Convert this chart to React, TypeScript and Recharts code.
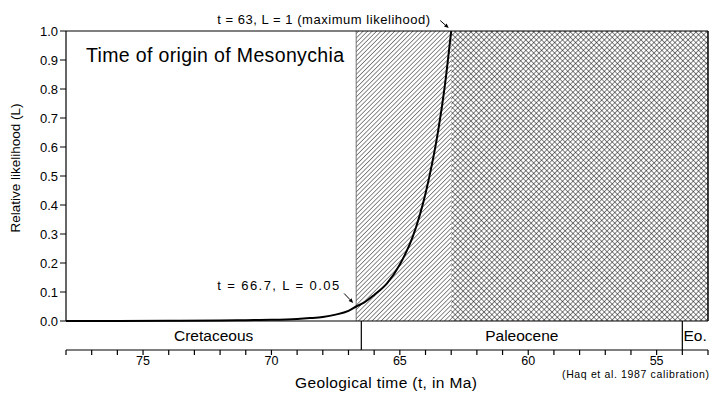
import React from 'react';
import {
  ComposedChart,
  Line,
  XAxis,
  YAxis,
  ReferenceArea,
  ReferenceLine,
  ReferenceDot,
} from 'recharts';

// ---- data ----
const times = [78, 76, 74, 72, 71, 70, 69, 68.5, 68, 67.5, 67, 66.7, 66.4, 66, 65.5, 65, 64.5, 64, 63.75, 63.5, 63.25, 63];
const likelihood = [0, 0.0003, 0.001, 0.002, 0.003, 0.004, 0.007, 0.01, 0.014, 0.022, 0.035, 0.05, 0.063, 0.09, 0.13, 0.195, 0.29, 0.44, 0.54, 0.66, 0.81, 1.0];

const timeTicks = [78, 77, 76, 75, 74, 73, 72, 71, 70, 69, 68, 67, 66, 65, 64, 63, 62, 61, 60, 59, 58, 57, 56, 55, 54, 53];
const labeledTimes = [75, 70, 65, 60, 55];
const likelihoodTicks = [0, 0.1, 0.2, 0.3, 0.4, 0.5, 0.6, 0.7, 0.8, 0.9, 1.0];

const eraNames = ['Cretaceous', 'Paleocene', 'Eo.'];
const eraBounds = [78, 66.5, 54, 53];

const lowerBoundTime = 66.7;
const lowerBoundL = 0.05;
const maxLikTime = 63;
const maxLik = 1;

const data = times.map((t, i) => ({ t, L: likelihood[i] }));

const FONT = '"Liberation Sans", Arial, Helvetica, sans-serif';

const XTick = (props: any) => {
  const { x, y, payload } = props;
  if (!labeledTimes.includes(payload.value)) return <g />;
  return (
    <text x={x} y={y - 1} dy="0.71em" textAnchor="middle" fontSize={12.5} fontFamily={FONT} fill="#000">
      {payload.value}
    </text>
  );
};

const arrow = (x1: number, y1: number, x2: number, y2: number) => {
  const dx = x2 - x1;
  const dy = y2 - y1;
  const len = Math.sqrt(dx * dx + dy * dy);
  const ux = dx / len;
  const uy = dy / len;
  const hl = 4.5;
  const hw = 2;
  const bx = x2 - ux * hl;
  const by = y2 - uy * hl;
  const p1 = `${bx - uy * hw},${by + ux * hw}`;
  const p2 = `${bx + uy * hw},${by - ux * hw}`;
  return (
    <g>
      <line x1={x1} y1={y1} x2={bx} y2={by} stroke="#000" strokeWidth={1} />
      <polygon points={`${x2},${y2} ${p1} ${p2}`} fill="#000" />
    </g>
  );
};

const makeNote = (text: string, textDx: number, textDy: number, textLen: number, a: number[]) =>
  (props: any) => {
    const vb = props.viewBox || {};
    const cx = (vb.x ?? 0) + (vb.width ?? 0) / 2;
    const cy = (vb.y ?? 0) + (vb.height ?? 0) / 2;
    return (
      <g>
        <text
          x={cx + textDx}
          y={cy + textDy}
          textAnchor="end"
          fontSize={13}
          fontFamily={FONT}
          fill="#000"
          textLength={textLen}
          lengthAdjust="spacing"
        >
          {text}
        </text>
        {arrow(cx + a[0], cy + a[1], cx + a[2], cy + a[3])}
      </g>
    );
  };

const eraLabel = (name: string) => (props: any) => {
  const vb = props.viewBox || {};
  const cx = (vb.x ?? 0) + (vb.width ?? 0) / 2;
  const cy = (vb.y ?? 0) + (vb.height ?? 0) / 2;
  return (
    <text x={cx} y={cy + 5.5} textAnchor="middle" fontSize={15.5} fontFamily={FONT} fill="#000">
      {name}
    </text>
  );
};

export default function App() {
  return (
    <div style={{ position: 'absolute', left: 0, top: 0, width: 724, height: 398, background: '#fff' }}>
      <svg width={0} height={0} style={{ position: 'absolute' }}>
        <defs>
          <pattern id="hatch" patternUnits="userSpaceOnUse" width={3.2} height={3.2} patternTransform="rotate(45)">
            <line x1={0} y1={0} x2={0} y2={3.2} stroke="#000" strokeWidth={0.9} />
          </pattern>
          <pattern id="crosshatch" patternUnits="userSpaceOnUse" width={3.7} height={3.7} patternTransform="rotate(45)">
            <line x1={0} y1={0} x2={0} y2={3.7} stroke="#000" strokeWidth={0.95} />
            <line x1={0} y1={0} x2={3.7} y2={0} stroke="#000" strokeWidth={0.95} />
          </pattern>
        </defs>
      </svg>
      <ComposedChart width={724} height={398} data={data} margin={{ top: 31, right: 16, bottom: 0, left: 26 }}>
        <XAxis
          dataKey="t"
          type="number"
          domain={[53, 78]}
          reversed
          ticks={timeTicks}
          interval={0}
          tickSize={5}
          tickMargin={2}
          height={48}
          tick={<XTick />}
          stroke="#000"
          axisLine={{ stroke: '#000', strokeWidth: 1.2 }}
          tickLine={{ stroke: '#000', strokeWidth: 1.2 }}
          allowDataOverflow
        />
        <YAxis
          type="number"
          domain={[-0.1, 1]}
          ticks={likelihoodTicks}
          interval={0}
          width={40}
          tickSize={6}
          tickMargin={2}
          axisLine={false}
          tickLine={{ stroke: '#000', strokeWidth: 1 }}
          tickFormatter={(v: number) => v.toFixed(1)}
          tick={{ fontSize: 13, fill: '#000', fontFamily: FONT }}
          allowDataOverflow
        />
        <ReferenceArea x1={lowerBoundTime} x2={maxLikTime} y1={0} y2={1} fill="url(#hatch)" fillOpacity={1} stroke="none" />
        <ReferenceArea x1={maxLikTime} x2={53} y1={0} y2={1} fill="url(#crosshatch)" fillOpacity={1} stroke="none" />
        <ReferenceLine segment={[{ x: lowerBoundTime, y: 0 }, { x: lowerBoundTime, y: 1 }]} stroke="#555" strokeWidth={0.8} />
        {eraNames.map((name, i) => (
          <ReferenceArea
            key={name}
            x1={eraBounds[i]}
            x2={eraBounds[i + 1]}
            y1={-0.1}
            y2={0}
            fill="none"
            stroke="none"
            label={{ content: eraLabel(name) } as any}
          />
        ))}
        {eraBounds.slice(1, 3).map((b) => (
          <ReferenceLine key={b} segment={[{ x: b, y: -0.1 }, { x: b, y: 0 }]} stroke="#000" strokeWidth={1.2} />
        ))}
        <ReferenceLine segment={[{ x: 78, y: 0 }, { x: 78, y: 1 }]} stroke="#000" strokeWidth={1.2} />
        <ReferenceLine segment={[{ x: 78, y: 1 }, { x: 53, y: 1 }]} stroke="#000" strokeWidth={1.2} />
        <ReferenceLine segment={[{ x: 78, y: 0 }, { x: 53, y: 0 }]} stroke="#000" strokeWidth={1.2} />
        <ReferenceLine segment={[{ x: 53, y: 0 }, { x: 53, y: 1 }]} stroke="#000" strokeWidth={1.5} />
        <Line
          dataKey="L"
          type="monotone"
          stroke="#000"
          strokeWidth={2}
          dot={false}
          isAnimationActive={false}
        />
        <ReferenceDot
          x={maxLikTime}
          y={maxLik}
          r={0.01}
          fill="none"
          stroke="none"
          label={{ content: makeNote('t = 63, L = 1 (maximum likelihood)', -21, -7.5, 213, [-11, -10.5, -2.5, -3]) } as any}
        />
        <ReferenceDot
          x={lowerBoundTime}
          y={lowerBoundL}
          r={0.01}
          fill="none"
          stroke="none"
          label={{ content: makeNote('t = 66.7, L = 0.05', -17, -17, 122, [-12, -13, -3, -3.5]) } as any}
        />
      </ComposedChart>
      <svg
        width={724}
        height={398}
        style={{ position: 'absolute', left: 0, top: 0, pointerEvents: 'none' }}
      >
        <text x={86} y={61.5} fontSize={19.5} fontFamily={FONT} fill="#000" textLength={258} lengthAdjust="spacing">
          Time of origin of Mesonychia
        </text>
        <text
          x={20}
          y={168}
          transform="rotate(-90 20 168)"
          textAnchor="middle"
          fontSize={13.5}
          fontFamily={FONT}
          fill="#000"
        >
          Relative likelihood (L)
        </text>
        <text x={386} y={388} textAnchor="middle" fontSize={15.5} fontFamily={FONT} fill="#000" textLength={182} lengthAdjust="spacing">
          Geological time (t, in Ma)
        </text>
        <text x={709} y={378} textAnchor="end" fontSize={10.5} fontFamily={FONT} fill="#000" textLength={147} lengthAdjust="spacing">
          (Haq et al. 1987 calibration)
        </text>
      </svg>
    </div>
  );
}
